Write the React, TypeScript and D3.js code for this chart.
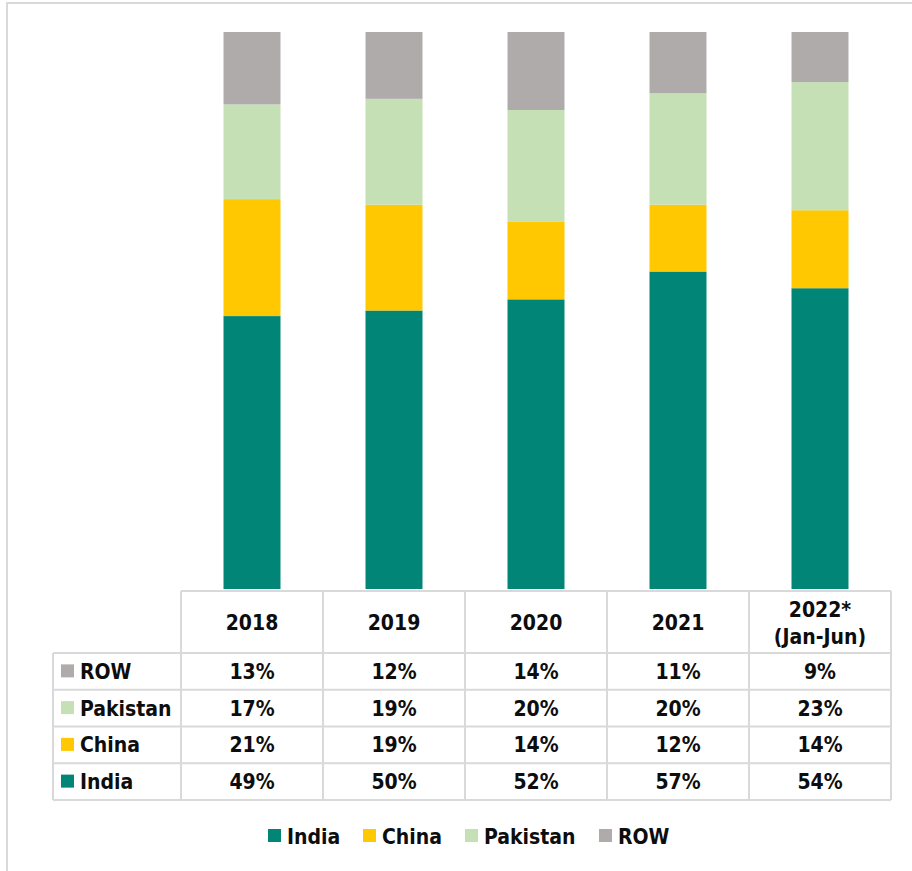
import React from "react";
import * as d3 from "d3";

// share of imports by origin, % per year
const years = ["2018", "2019", "2020", "2021", "2022*"];
const yearSub = ["", "", "", "", "(Jan-Jun)"];
const india = [49, 50, 52, 57, 54];
const china = [21, 19, 14, 12, 14];
const pakistan = [17, 19, 20, 20, 23];
const row = [13, 12, 14, 11, 9];

const seriesNames = ["India", "China", "Pakistan", "ROW"];
const seriesColors = ["#008577", "#ffc800", "#c5e0b4", "#afabab"];

const W = 912;
const H = 871;
const font = "'DejaVu Sans Condensed', 'DejaVu Sans', sans-serif";
const grid = "#d9d9d9";

export default function App() {
  const values = [india, china, pakistan, row];
  const table = years.map((y, i) => {
    const o: any = { year: y };
    seriesNames.forEach((s, k) => (o[s] = values[k][i]));
    return o;
  });
  const stacked = d3.stack().keys(seriesNames)(table);

  const x = d3.scaleBand().domain(years).range([181, 891]).padding(0);
  const y = d3.scaleLinear().domain([0, 100]).range([589, 32]);
  const barW = 57;

  const tableTop = 591;
  const headerBottom = 653;
  const rowH = 36.75;
  const labelLeft = 53;
  // rows in table are listed top-down: ROW, Pakistan, China, India
  const tableOrder = [3, 2, 1, 0];
  const tableBottom = headerBottom + rowH * tableOrder.length;

  const legendX = [268, 363, 465, 599];

  return (
    <svg
      width={W}
      height={H}
      style={{ position: "absolute", left: 0, top: 0, background: "#fff" }}
      fontFamily={font}
    >
      <rect x={7} y={3} width={W + 20} height={H + 20} fill="none" stroke={grid} strokeWidth={2} />

      {/* stacked bars */}
      {stacked.map((s, k) => (
        <g key={s.key} fill={seriesColors[k]}>
          {s.map((d, i) => (
            <rect
              key={i}
              x={(x(years[i]) as number) + (x.bandwidth() - barW) / 2}
              y={y(d[1])}
              width={barW}
              height={y(d[0]) - y(d[1])}
            />
          ))}
        </g>
      ))}

      {/* data table */}
      <g stroke={grid} strokeWidth={2} fill="none">
        <line x1={181} x2={891} y1={tableTop} y2={tableTop} />
        {tableOrder.map((_, r) => (
          <line key={r} x1={labelLeft} x2={891} y1={headerBottom + r * rowH} y2={headerBottom + r * rowH} />
        ))}
        <line x1={labelLeft} x2={891} y1={tableBottom} y2={tableBottom} />
        <line x1={labelLeft} x2={labelLeft} y1={headerBottom} y2={tableBottom} />
        {years.map((yr) => (
          <line key={yr} x1={x(yr)} x2={x(yr)} y1={tableTop} y2={tableBottom} />
        ))}
        <line x1={891} x2={891} y1={tableTop} y2={tableBottom} />
      </g>

      <g fontSize={21} fontWeight="bold" fill="#0d0d0d" textAnchor="middle">
        {years.map((yr, i) => {
          const cx = (x(yr) as number) + x.bandwidth() / 2;
          return yearSub[i] ? (
            <g key={yr}>
              <text x={cx} y={617}>{yr}</text>
              <text x={cx} y={644}>{yearSub[i]}</text>
            </g>
          ) : (
            <text key={yr} x={cx} y={630}>{yr}</text>
          );
        })}
        {tableOrder.map((k, r) => {
          const cy = headerBottom + r * rowH + rowH / 2;
          return (
            <g key={k}>
              <rect x={61} y={cy - 7} width={13} height={13} fill={seriesColors[k]} />
              <text x={80} y={cy + 7.5} textAnchor="start">{seriesNames[k]}</text>
              {years.map((yr, i) => (
                <text key={yr} x={(x(yr) as number) + x.bandwidth() / 2} y={cy + 7.5}>
                  {values[k][i]}%
                </text>
              ))}
            </g>
          );
        })}
      </g>

      {/* legend */}
      <g fontSize={21} fontWeight="bold" fill="#0d0d0d">
        {seriesNames.map((s, k) => (
          <g key={s}>
            <rect x={legendX[k]} y={829} width={13} height={13} fill={seriesColors[k]} />
            <text x={legendX[k] + 19} y={843.5}>{s}</text>
          </g>
        ))}
      </g>
    </svg>
  );
}
